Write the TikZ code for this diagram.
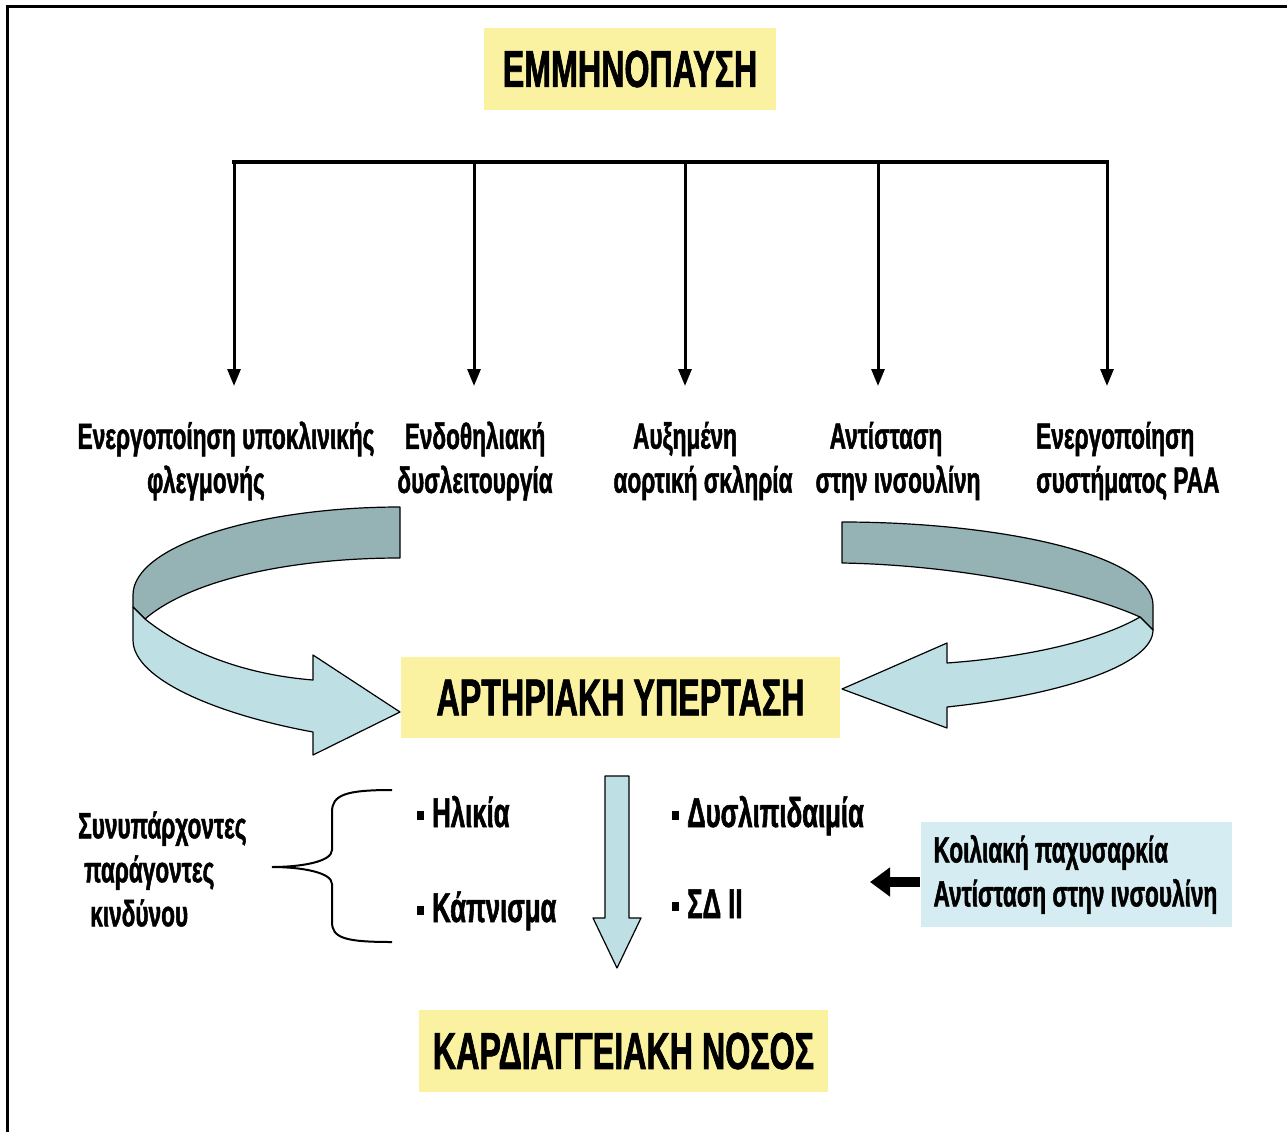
\documentclass[tikz,border=0pt]{standalone}
\usepackage{fontspec}
\setmainfont{Liberation Sans}[FakeStretch=0.62, BoldFeatures={FakeBold=1.3}]
\usetikzlibrary{arrows.meta,positioning}

\definecolor{boxyellow}{RGB}{250,242,160}
\definecolor{boxblue}{RGB}{214,236,243}
\definecolor{bandback}{RGB}{149,178,181}
\definecolor{bandfront}{RGB}{190,224,228}

\tikzset{
  headbox/.style={fill=boxyellow, inner sep=0pt, font=\bfseries\fontsize{52}{60}\selectfont},
  cause/.style={align=center, inner sep=0pt, font=\bfseries\fontsize{36.5}{44}\selectfont},
  factor/.style={anchor=base west, inner sep=0pt, font=\bfseries\fontsize{41.5}{48}\selectfont},
  feed/.style={line width=3pt, -{Triangle[width=13pt,length=17pt]}},
  band/.style={draw=black, line width=1.2pt, line join=round},
}
\newcommand{\blt}{\rule[7pt]{7pt}{9pt}\hspace{8pt}}

\begin{document}
\begin{tikzpicture}[x=1pt,y=-1pt]
\useasboundingbox (0,0) rectangle (1287,1132);
\draw[line width=3pt] (7,1132) -- (7,7) -- (1287,7);

% boxes
\node[headbox, minimum width=292pt, minimum height=82pt] (meno)  at (630,69)    {ΕΜΜΗΝΟΠΑΥΣΗ};
\node[headbox, minimum width=439pt, minimum height=81pt] (hyper) at (620.5,697.5) {ΑΡΤΗΡΙΑΚΗ ΥΠΕΡΤΑΣΗ};
\node[headbox, minimum width=409pt, minimum height=82pt] (cvd)   at (623.5,1051) {ΚΑΡΔΙΑΓΓΕΙΑΚΗ ΝΟΣΟΣ};

% the five causes
\node[cause] (inflam)  at (226,461) {Ενεργοποίηση υποκλινικής\\φλεγμονής\hspace*{40pt}};
\node[cause] (endo)    at (475,461) {Ενδοθηλιακή\\δυσλειτουργία};
\node[cause] (aorta)   at (703,461) {Αυξημένη\hspace*{36pt}\\αορτική σκληρία};
\node[cause] (insulin) at (898,461) {Αντίσταση\hspace*{24pt}\\στην ινσουλίνη};
\node[cause, align=left, anchor=west] (raa) at (1036,461) {Ενεργοποίηση\\συστήματος PAA};

\foreach \x/\n in {234/1,474/2,685/3,878/4,1107/5} {
  \coordinate (top\n) at (\x,162);
  \coordinate (tip\n) at (\x,386);
  \draw[feed] (top\n) -- (tip\n);
}
\draw[line width=4pt, line cap=rect] (top1) -- (top5);

% left band
\filldraw[band, fill=bandback] (400,507) .. controls (260,507) and (133,545) .. (133,595)
  -- (133,607) -- (145,619) .. controls (190,580) and (290,558) .. (400,558) -- cycle;
\filldraw[band, fill=bandfront] (133,607) -- (145,619) .. controls (190,655) and (250,675) .. (313,680)
  -- (313,655) -- (400,712) -- (313,755) -- (313,732) .. controls (220,715) and (133,680) .. (133,640) -- cycle;
% right band
\filldraw[band, fill=bandback] (842,522) .. controls (1000,522) and (1153,555) .. (1153,605)
  -- (1153,630) -- (1140,617) .. controls (1080,590) and (960,565) .. (842,563) -- cycle;
\filldraw[band, fill=bandfront] (1140,617) -- (1153,630) .. controls (1153,665) and (1060,695) .. (947,707)
  -- (947,728) -- (842,689) -- (947,643) -- (947,663) .. controls (1030,657) and (1100,640) .. (1140,617) -- cycle;

% down arrow
\filldraw[band, fill=bandfront] (605,776) -- (629,776) -- (629,918) -- (641,918) -- (617,968)
  -- (593,918) -- (605,918) -- cycle;

% risk factors
\node[cause, align=left, anchor=west] (risk) at (78,869) {Συνυπάρχοντες\\\hspace{6pt}παράγοντες\\\hspace{12pt}κινδύνου};
\draw[line width=2pt] (392,790) .. controls (345,790) and (332,795) .. (332,812) -- (332,850)
  .. controls (332,862) and (300,867) .. (272,867) .. controls (300,867) and (332,872) .. (332,884)
  -- (332,922) .. controls (332,938) and (345,942) .. (392,942);
\node[factor] (age)    at (417,827) {\blt Ηλικία};
\node[factor] (smoke)  at (417,922) {\blt Κάπνισμα};
\node[factor] (lipid)  at (672,827) {\blt Δυσλιπιδαιμία};
\node[factor] (diab)   at (672,918) {\blt ΣΔ ΙΙ};

\node[cause, fill=boxblue, align=flush left, text width=285pt, inner xsep=13pt, minimum height=105pt] (obesity) at (1076,874.5)
  {Κοιλιακή παχυσαρκία\\Αντίσταση στην ινσουλίνη};
\coordinate (obtip) at (870,882);
\draw[line width=10pt, -{Triangle[width=28pt,length=20pt]}] (obesity.west |- obtip) -- (obtip);
\end{tikzpicture}
\end{document}
